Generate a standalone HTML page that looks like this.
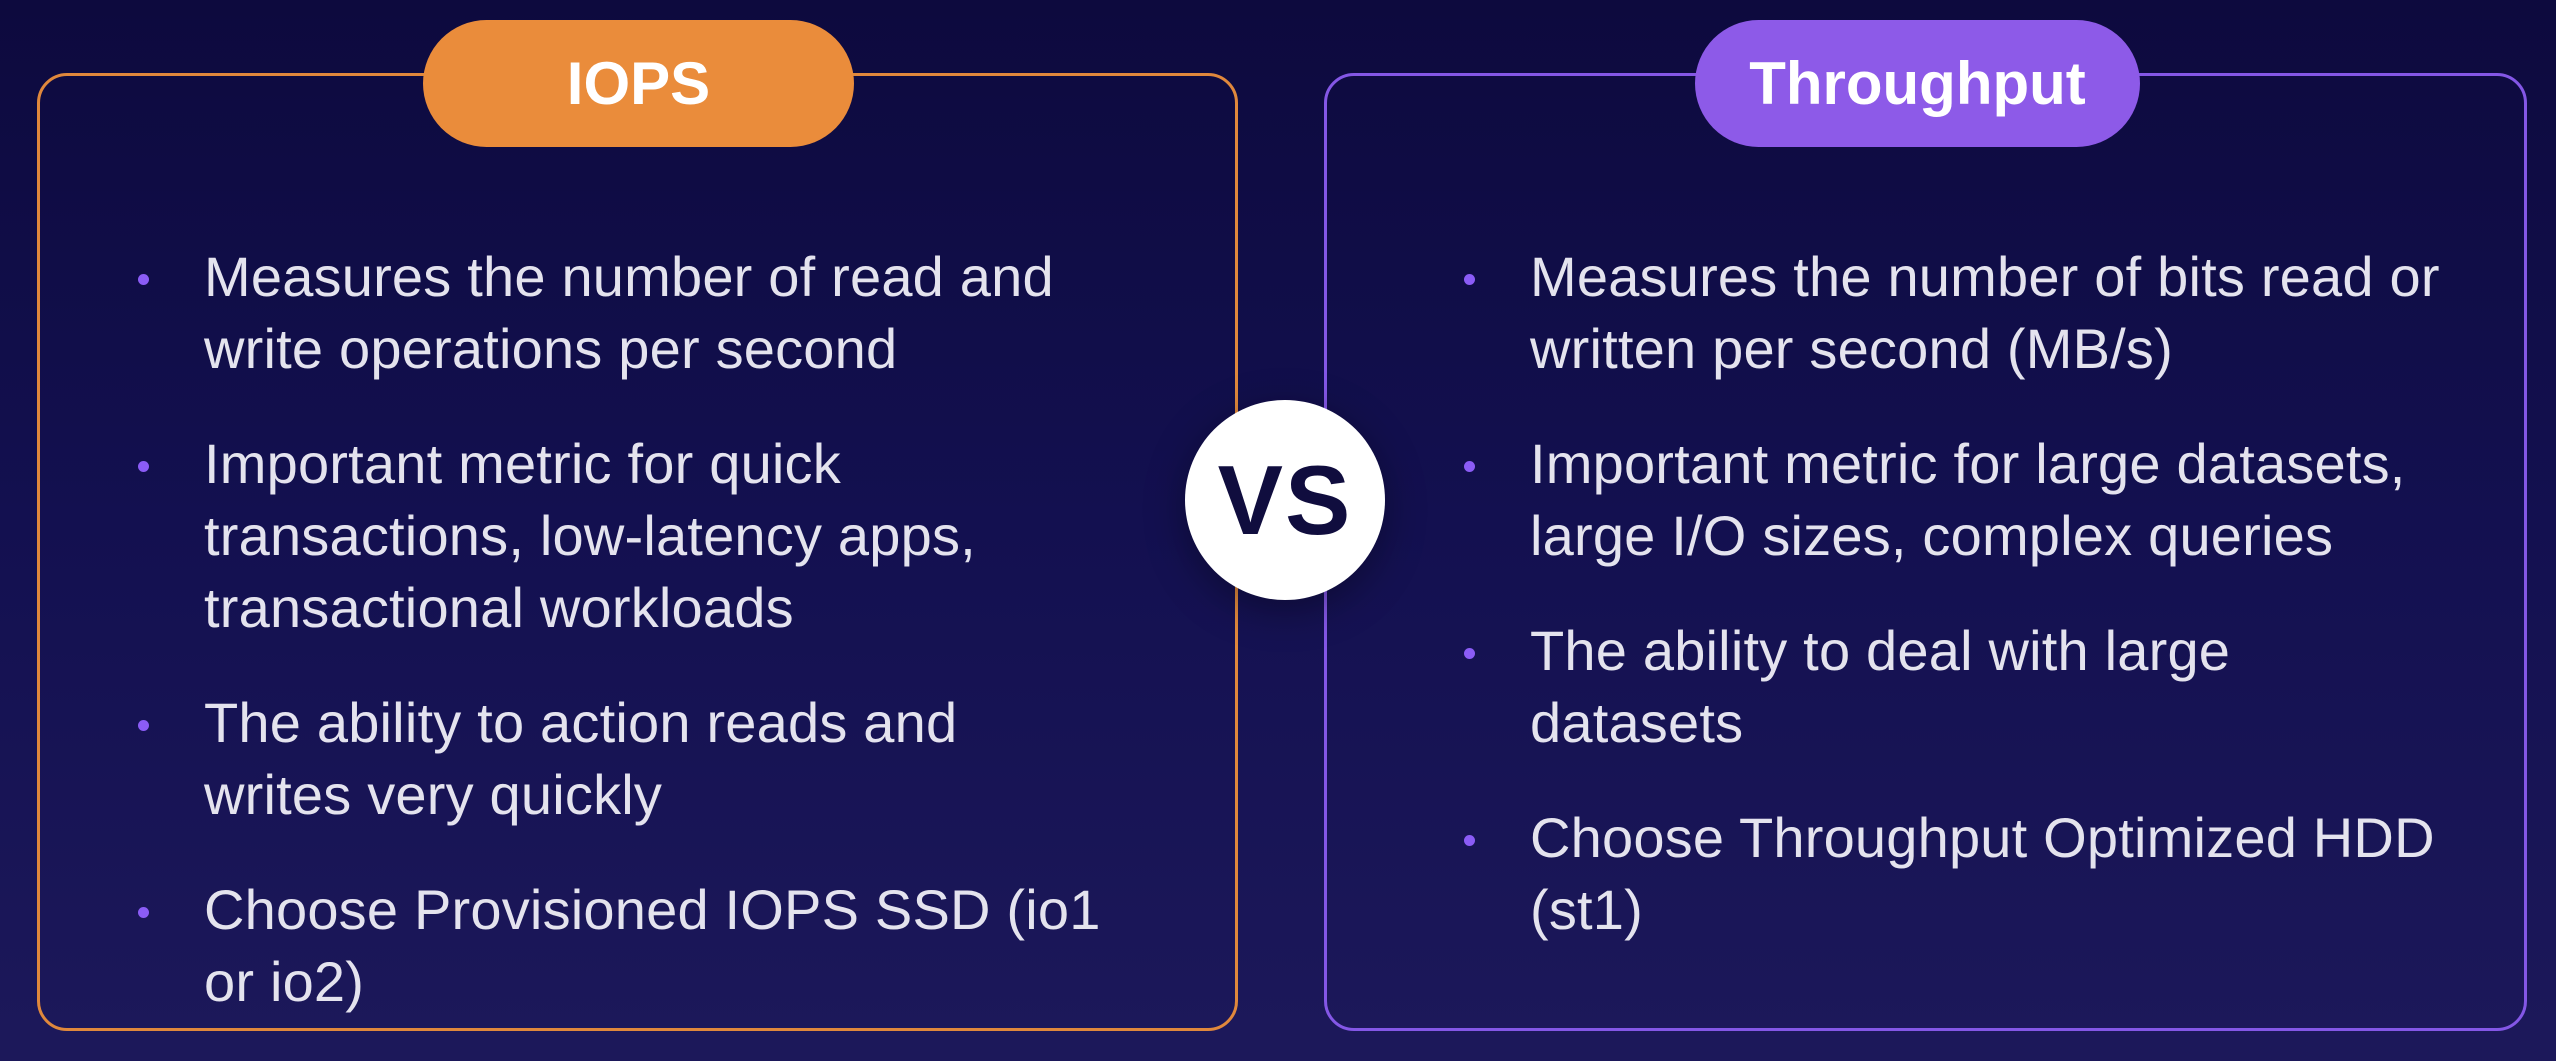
<!DOCTYPE html>
<html><head><meta charset="utf-8"><style>
html,body{margin:0;padding:0;background:#1c185a}
body{width:2556px;height:1044px;overflow:hidden;position:relative;
background:linear-gradient(180deg,#0d0a3e 0%,#131050 50%,#1c185a 100%);
font-family:"Liberation Sans",sans-serif;}
.box{position:absolute;top:73px;height:958px;border-radius:30px;box-sizing:border-box;border:3px solid}
.l{left:37px;width:1201px;border-color:#e0883c}
.r{left:1324px;width:1203px;border-color:#8457e6}
.pill{position:absolute;top:20px;height:127px;border-radius:64px;color:#fff;font-weight:bold;font-size:60px;
display:flex;align-items:center;justify-content:center;}
ul{position:absolute;top:241px;margin:0;padding:0;list-style:none;color:#e4e3ee;font-size:56px;line-height:72px;letter-spacing:0.2px}
li{position:relative;margin-bottom:43px;white-space:nowrap}
li:before{content:"";position:absolute;left:-66px;top:33px;width:11px;height:11px;border-radius:50%;background:#8b5cf6}
.vs{position:absolute;left:1185px;top:400px;width:200px;height:200px;border-radius:50%;background:#fff;
display:flex;align-items:center;justify-content:center;font-weight:900;font-size:98px;color:#100d3e;letter-spacing:2px;
box-shadow:0 10px 40px rgba(0,0,0,0.35)}
</style></head><body>
<div class="box l"></div>
<div class="box r"></div>
<div class="pill" style="left:423px;width:431px;background:#ea8c3b">IOPS</div>
<div class="pill" style="left:1695px;width:445px;background:#8d5ae8">Throughput</div>
<ul style="left:204px">
<li>Measures the number of read and<br>write operations per second</li>
<li>Important metric for quick<br>transactions, low-latency apps,<br>transactional workloads</li>
<li>The ability to action reads and<br>writes very quickly</li>
<li>Choose Provisioned IOPS SSD (io1<br>or io2)</li>
</ul>
<ul style="left:1530px">
<li>Measures the number of bits read or<br>written per second (MB/s)</li>
<li>Important metric for large datasets,<br>large I/O sizes, complex queries</li>
<li>The ability to deal with large<br>datasets</li>
<li>Choose Throughput Optimized HDD<br>(st1)</li>
</ul>
<div class="vs">VS</div>
</body></html>
